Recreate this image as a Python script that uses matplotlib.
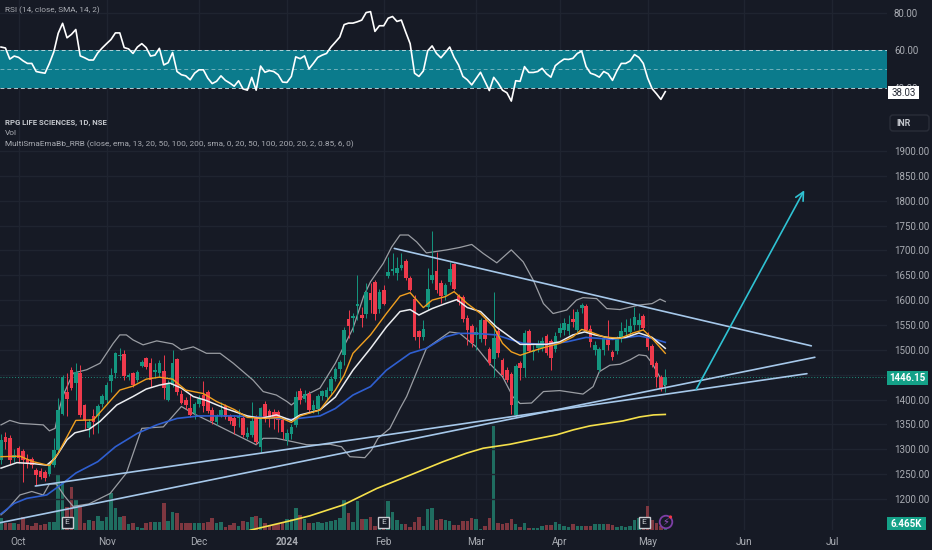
import matplotlib
matplotlib.use('Agg')
import matplotlib.pyplot as plt
from matplotlib.patches import Rectangle, FancyBboxPatch, Circle

plt.rcParams['font.family'] = ['Roboto', 'DejaVu Sans']

# candles (bar 0 is the left edge)
opens = [1278,1325,1323,1282,1302,1297,1280,1280,1258,1257,
         1255,1250,1268,1298,1371,1416,1460,1433,1454,1389,
         1342,1367,1366,1391,1399,1438,1454,1488,1492,1446,
         1453,1439,1468,1483,1474,1455,1453,1458,1400,1429,
         1481,1412,1400,1382,1372,1391,1409,1416,1379,1354,
         1369,1387,1366,1362,1362,1362,1325,1329,1362,1305,
         1391,1376,1374,1374,1358,1319,1331,1349,1418,1402,
         1412,1379,1380,
         1407,1405,1418,1442,1462,1489,1563,1565,1588,1570,
         1573,1615,1637,1583,1620,1649,1658,1654,1664,1679,
         1644,1603,1538,1526,1587,1640,1659,1634,1610,1637,
         1672,1608,1607,1565,1548,1530,1521,1560,1501,1481,
         1538,1479,1460,1451,1369,1473,1463,1538,1496,1503,
         1503,1528,1518,1501,1533,1540,1538,1563,1540,1585,
         1588,1541,1499,1460,1499,1526,1496,1498,
         1523,1535,1536,1550,1550,1568,1526,1508,1473,1446,1429]
closes = [1319,1315,1278,1288,1282,1278,1270,1268,1248,1245,
          1242,1268,1298,1379,1446,1402,1423,1456,1369,1359,
          1354,1354,1387,1407,1429,1449,1493,1490,1447,1449,
          1429,1456,1476,1466,1439,1460,1474,1423,1433,1473,
          1416,1394,1389,1369,1391,1402,1387,1376,1356,1366,
          1379,1364,1356,1347,1366,1329,1332,1356,1315,1382,
          1362,1362,1362,1358,1335,1332,1345,1405,1399,1412,
          1379,1389,1407,
          1417,1419,1442,1462,1476,1540,1548,1568,1592,1565,
          1617,1600,1573,1617,1593,1657,1662,1664,1670,1644,
          1621,1526,1525,1541,1623,1650,1621,1608,1630,1662,
          1623,1597,1563,1540,1514,1536,1560,1521,1474,1523,
          1493,1449,1439,1389,1468,1463,1533,1498,1499,1511,
          1518,1493,1483,1528,1543,1554,1552,1556,1577,1590,
          1540,1516,1509,1501,1521,1509,1486,1521,
          1538,1543,1547,1567,1561,1543,1506,1469,1446,1422,1446]
highs = [1330,1335,1328,1300,1306,1300,1290,1284,1262,1262,
         1258,1272,1322,1403,1450,1453,1465,1474,1470,1392,
         1360,1380,1392,1412,1435,1464,1496,1503,1500,1453,
         1456,1460,1480,1486,1483,1473,1480,1490,1440,1500,
         1484,1420,1405,1412,1395,1410,1438,1420,1385,1370,
         1396,1392,1370,1366,1380,1370,1345,1395,1368,1385,
         1398,1380,1380,1378,1362,1340,1350,1418,1423,1420,
         1418,1400,1412,
         1420,1425,1448,1465,1480,1545,1580,1575,1650,1587,
         1635,1634,1640,1622,1630,1687,1694,1687,1694,1682,
         1648,1610,1540,1560,1664,1740,1697,1640,1635,1677,
         1675,1612,1610,1570,1552,1545,1565,1565,1505,1617,
         1545,1483,1465,1455,1472,1478,1540,1542,1510,1520,
         1525,1532,1522,1535,1553,1565,1570,1583,1582,1595,
         1592,1550,1518,1505,1528,1560,1500,1528,
         1555,1562,1565,1587,1575,1572,1535,1512,1478,1450,1461]
lows = [1270,1300,1270,1275,1272,1235,1262,1262,1228,1240,
        1236,1246,1264,1295,1368,1367,1420,1400,1365,1340,
        1325,1330,1332,1385,1390,1415,1443,1480,1440,1440,
        1425,1435,1465,1462,1425,1443,1445,1402,1398,1425,
        1410,1390,1380,1365,1360,1385,1375,1372,1350,1348,
        1365,1360,1350,1330,1345,1325,1320,1325,1310,1295,
        1355,1345,1340,1335,1320,1308,1320,1345,1390,1396,
        1375,1372,1370,
        1400,1398,1410,1438,1440,1470,1523,1535,1560,1546,
        1565,1575,1560,1575,1590,1645,1650,1640,1660,1640,
        1618,1520,1503,1520,1580,1635,1615,1595,1600,1630,
        1620,1590,1555,1510,1505,1500,1515,1510,1470,1446,
        1485,1445,1435,1370,1365,1440,1446,1495,1480,1495,
        1498,1490,1460,1495,1525,1530,1530,1545,1535,1575,
        1535,1505,1490,1455,1490,1500,1480,1492,
        1515,1525,1530,1540,1540,1540,1500,1465,1425,1418,1415]
volumes = [12.6,7.2,7.9,7.2,6.5,13.7,5.4,4.7,7.9,5.4,
           6.5,9,9,59.4,52.2,25.2,46,33,25,7.2,
           10.8,10,15,10,14.4,39.6,24,14.4,15,6.5,
           7.2,3.6,1.8,7.9,9,9,9,29.5,10,19.8,
           18,7.2,7.2,7.9,7.2,7.2,7.9,9,13.3,7.2,
           8.3,3.6,5.4,7.9,4.3,9.7,9,14.4,15,12.6,
           7.2,5.4,5.4,6.5,7.2,11.5,11.5,23.4,16.2,11.5,
           7.2,7.9,9,
           7.9,9,9.7,10.8,12.6,33.5,18,9,31.3,11.9,
           11.5,13.7,4.3,5.4,7.2,31.7,19,10.8,6.5,6.5,
           3.6,8.3,13.7,4.3,23,23.8,10.8,11.5,10.4,9.7,
           5,5.8,10,10,13,11.5,1.4,4.3,12.6,112.3,
           7.2,6.5,7.9,11.5,6.1,2.9,7.6,2.2,2.5,1.8,
           4.7,5,5.4,9,6.1,4.3,3.6,6.1,4.3,4.3,
           4.3,4.7,6.1,6.1,6.5,6.5,5.8,3.6,4.3,3.6,
           4.3,10.8,12.6,12.6,25.9,10.8,7.2,4.3,6.465]
rsi = [61.7,61.2,55.3,56.9,56.2,54.4,53,53,48.7,48.2,
       47.8,53,59.1,69,74.3,66.6,68.4,71,57,56,
       54.8,54.8,58.6,61.2,63.5,65.7,69.2,69.2,61.4,60.7,
       58.3,61.7,63.5,61.4,56.9,57.4,61,52.2,53.4,58.8,
       48.7,47,46.4,44.3,47.8,49.6,49.6,45.2,42.3,43.5,
       46.4,44,42.6,40.9,43.8,39.5,38.8,45.6,38.8,51.6,
       48.3,49.2,48.7,47,43.1,42.9,46.1,56.5,55.5,57,
       50.1,53,56.2,57.4,58.3,61.7,64.3,67,73.6,74.4,
       74.4,75.1,76,80,80.5,70,73,73,77,77.9,
       75.3,76,69.6,63.5,47.8,46.1,49,59.7,62.3,58.3,
       56,58.8,61.7,56.2,52.2,46.1,
       44.3,41.6,44.9,48.3,43.5,38.6,45.6,42.6,38.8,37.4,
       33,43.8,43.5,51.3,48.2,48.2,48.7,50.4,47.5,45.7,
       51.8,53.7,55.3,55.1,55.7,58.3,59.5,51.3,47.8,47,
       45.7,48.7,47.5,44,49,53,53,54.3,57.7,56.2,
       53,45.2,39.6,36.9,33.9,38]

# moving averages and bands, each with the bars where it was read
ema_fast_bars = [0,4.3,7.3,11,13,15,17,21,24,27,30,33,36,39,42,46,49,53,56,60,63.4,66,68,72.5,76,78,80,84,87.6,90.7,93,94.5,96,98,101,103,106,109,112,114,116,118,121,124,127,130,132,134,137,140.7,143.7,146,148,151]
ema_fast = [1285,1286,1275,1267,1292,1325,1358,1359,1389,1419,1427,1441,1445,1441,1419,1412,1396,1380,1364,1362,1364,1354,1367,1379,1419,1449,1493,1530,1573,1608,1615,1600,1585,1600,1607,1617,1593,1573,1546,1513,1496,1489,1498,1506,1513,1526,1541,1536,1526,1523,1534,1540,1523,1493]
ema_mid_bars = [0,3.6,7.3,10.4,12.3,15,16.8,20,22.5,26.3,30,33,36,38.4,41,43.7,46.7,51,56,59,62.6,66,68,72.5,76,80,84,87.6,90.7,93,95,98,101,103.6,106,109,112.6,115.7,118,121,124,127,130,132.7,135,139,142,145,148,151]
ema_mid = [1262,1273,1271,1268,1282,1319,1333,1340,1356,1389,1406,1421,1429,1433,1423,1406,1398,1382,1367,1362,1369,1358,1369,1379,1405,1459,1503,1546,1577,1581,1570,1583,1593,1601,1585,1577,1546,1526,1511,1511,1511,1516,1530,1536,1530,1523,1525,1534,1525,1503]
ema_slow_bars = [0,3,5.8,10.4,14,17,22,26,31,35.4,40,45,53,60,65.7,72.5,76,80,84,87.6,93,96.7,101,104,108,112.6,115.7,118.7,124,128.6,133,139,145,148,151]
ema_slow = [1170,1191,1201,1208,1231,1252,1275,1305,1332,1349,1362,1367,1367,1364,1360,1367,1382,1409,1426,1459,1493,1503,1526,1533,1533,1530,1521,1513,1511,1516,1525,1521,1528,1523,1515]
sma_long_bars = [56.6,65.7,70.2,77.8,85.4,93,100.5,105.8,109.6,115.7,121.7,126.3,130.1,133.9,137.7,141.4,145.2,148.3,151]
sma_long = [1137,1156,1166,1188,1221,1248,1275,1292,1302,1310,1321,1329,1339,1347,1352,1357,1365,1369,1370]
bb_upper_bars = [0,2,4.3,9.6,11,12.3,13,14,16.4,19.5,22.5,25.5,27,28.5,30,32.3,35.4,39,41,43.7,46.7,49.8,52.8,57.3,59.6,62.6,65,66,68,72.5,76,80,82.4,84,86.9,88.8,90.7,92.6,94.5,96.7,101.3,104.3,107,109.6,112.7,116,118.7,121,123.3,125.5,128.6,130.8,132.3,135.4,137.7,140.7,145,148,149.8,151]
bb_upper = [1349,1358,1352,1349,1337,1342,1372,1406,1453,1460,1473,1513,1530,1530,1520,1510,1518,1512,1500,1506,1493,1493,1473,1439,1416,1409,1396,1389,1403,1423,1473,1543,1607,1637,1674,1707,1731,1731,1717,1695,1701,1706,1712,1694,1675,1701,1677,1640,1593,1573,1580,1600,1605,1603,1583,1581,1590,1593,1602,1597]
bb_lower_bars = [0,1.3,4.3,7,9.6,11,12.6,14.5,16.4,20,24.8,28.5,32,36.9,41,43.7,48.3,52.8,58,59.6,62.6,66.4,69.5,72.5,74.8,77.4,79.3,82.7,84.2,85.7,88.4,90.7,92.2,96.7,102,104.3,108,111,114,116.4,118,120.6,123.3,127,132.3,134.6,136,138.4,140.7,143,145,146.7,148,151]
bb_lower = [1168,1178,1208,1215,1208,1230,1230,1205,1185,1190,1211,1252,1342,1345,1386,1372,1352,1332,1309,1322,1322,1315,1309,1309,1310,1305,1285,1283,1298,1322,1342,1382,1406,1503,1536,1533,1506,1473,1446,1405,1392,1393,1416,1418,1411,1426,1456,1469,1471,1480,1490,1488,1473,1426]

# drawn trend lines and the forecast arrow
trend_bars = [[89.4, 184.2], [7.8, 183.2], [-0.3, 185]]
trend_prices = [[1704, 1508], [1226, 1452], [1152, 1485]]
arrow_bars = [158, 182.6]
arrow_prices = [1420, 1821]

month_bars = [4, 24, 45, 65, 87, 108, 127, 147, 169, 189]
month_names = ['Oct', 'Nov', 'Dec', '2024', 'Feb', 'Mar', 'Apr', 'May', 'Jun', 'Jul']
price_ticks = [1200, 1250, 1300, 1350, 1400, 1450, 1500, 1550, 1600, 1650, 1700, 1750, 1800, 1850, 1900]
price_labels = [1200, 1250, 1300, 1350, 1400, 1500, 1550, 1600, 1650, 1700, 1750, 1800, 1850, 1900]
rsi_ticks = [40, 60, 80]
last_price = 1446.15

BG = '#161a25'
GRID = '#1f2430'
TEXT = '#a9acb3'
UP = '#14967f'
DOWN = '#ee3a4c'
FIG_W, FIG_H = 932, 550
AX_W = 887


def px_axes(top, bottom):
    return [0, 1 - bottom / FIG_H, AX_W / FIG_W, (bottom - top) / FIG_H]


fig = plt.figure(figsize=(9.32, 5.5), dpi=100, facecolor=BG)
xlim = (-0.23, 201.4)

# RSI pane
ax_rsi = fig.add_axes(px_axes(0, 110), facecolor=BG)
ax_rsi.set_xlim(xlim)
ax_rsi.set_ylim(28.27, 86.67)
ax_rsi.axhspan(40, 60, color='#0b7b8c', lw=0, zorder=1)
for level, alpha in [(60, 0.9), (50, 0.55), (40, 0.9)]:
    ax_rsi.axhline(level, color='#c5dde2', lw=0.7, ls=(0, (4, 3)), alpha=alpha, zorder=2)
ax_rsi.plot(range(len(rsi)), rsi, color='white', lw=1.2, zorder=3)
ax_rsi.set_yticks(rsi_ticks)
ax_rsi.set_yticklabels(['%.2f' % t for t in rsi_ticks])

# volume sits under the price axes
ax_vol = fig.add_axes(px_axes(110, 530), facecolor=BG, zorder=1)
ax_vol.set_xlim(xlim)
ax_vol.set_ylim(0, 453)
vol_colors = ['#1f6d60' if c >= o else '#7e3740' for o, c in zip(opens, closes)]
ax_vol.bar(range(len(volumes)), volumes, width=0.8, color=vol_colors, lw=0, zorder=2)
ax_vol.set_yticks([])

ax = fig.add_axes(px_axes(110, 530), zorder=2)
ax.patch.set_alpha(0)
ax.set_xlim(xlim)
ax.set_ylim(1137.5, 1982.5)

for a in (ax_rsi, ax_vol, ax):
    for s in a.spines.values():
        s.set_visible(False)
    a.tick_params(length=0)
for a in (ax_rsi, ax_vol):
    a.set_xticks(month_bars)
    a.set_xticklabels([])
    a.grid(True, axis='x', color=GRID, lw=1, zorder=0)
    a.set_axisbelow(True)
ax_rsi.grid(True, axis='y', color=GRID, lw=1)

ax.yaxis.tick_right()
ax_rsi.yaxis.tick_right()
ax.set_yticks(price_ticks)
ax.set_yticklabels(['%.2f' % t if t in price_labels else '' for t in price_ticks])
ax.grid(True, axis='y', color=GRID, lw=1, zorder=0)
ax.set_axisbelow(True)
ax.set_xticks(month_bars)
ax.set_xticklabels(month_names)
ax.tick_params(axis='x', colors=TEXT, labelsize=7.2, pad=5)
for a in (ax, ax_rsi):
    a.tick_params(axis='y', colors=TEXT, labelsize=7, pad=5)
for lab in ax.get_xticklabels():
    if lab.get_text() == '2024':
        lab.set_fontweight('bold')

ax.axhline(last_price, color='#1f8f7c', lw=0.7, ls=(0, (1, 2)), zorder=1)

# bands and averages
ax.plot(bb_upper_bars, bb_upper, color='#9a9da3', lw=0.9, zorder=3)
ax.plot(bb_lower_bars, bb_lower, color='#9a9da3', lw=0.9, zorder=3)

# candles
for i in range(len(opens)):
    col = UP if closes[i] >= opens[i] else DOWN
    ax.vlines(i, lows[i], highs[i], color=col, lw=0.7, zorder=4)
    ax.bar(i, max(abs(closes[i] - opens[i]), 2), bottom=min(opens[i], closes[i]),
           width=0.82, color=col, lw=0, zorder=5)

ax.plot(sma_long_bars, sma_long, color='#f5e04b', lw=1.2, zorder=6)
ax.plot(ema_slow_bars, ema_slow, color='#2f5fd0', lw=1.2, zorder=6)
ax.plot(ema_mid_bars, ema_mid, color='#ebedf0', lw=1.1, zorder=6)
ax.plot(ema_fast_bars, ema_fast, color='#f0a020', lw=1.0, zorder=6)

for tb, tp in zip(trend_bars, trend_prices):
    ax.plot(tb, tp, color='#a6c8ea', lw=1.2, zorder=7, solid_capstyle='round')
ax.annotate('', xy=(arrow_bars[1], arrow_prices[1]), xytext=(arrow_bars[0], arrow_prices[0]),
            arrowprops=dict(arrowstyle='->,head_length=0.6,head_width=0.3', color='#2fc2d3',
                            lw=1.2, shrinkA=0, shrinkB=0), zorder=7)

# overlay in pixels for the legend texts, price boxes and small icons
ov = fig.add_axes([0, 0, 1, 1], zorder=5)
ov.patch.set_alpha(0)
ov.set_xlim(0, FIG_W)
ov.set_ylim(FIG_H, 0)
ov.axis('off')

ov.text(5, 10.5, 'RSI (14, close, SMA, 14, 2)', color=TEXT, fontsize=5.95, va='center')
ov.text(5, 122.5, 'RPG LIFE SCIENCES, 1D, NSE', color='#c3c6cc', fontsize=5.6, va='center', fontweight='bold')
ov.text(5, 133, 'Vol', color=TEXT, fontsize=5.95, va='center')
ov.text(5, 144, 'MultiSmaEmaBb_RRB (close, ema, 13, 20, 50, 100, 200, sma, 0, 20, 50, 100, 200, 20, 2, 0.85, 6, 0)',
        color=TEXT, fontsize=5.95, va='center')

ov.add_patch(Rectangle((888, 86), 31, 13, color='white', lw=0))
ov.text(903.5, 92.8, '38.03', color='#2a2e39', fontsize=7, ha='center', va='center')
ov.add_patch(FancyBboxPatch((890, 115), 39, 16, boxstyle='round,pad=0,rounding_size=3',
                            fc=BG, ec='#2a2e39', lw=1))
ov.text(896, 123, 'INR', color='#c3c6cc', fontsize=6.4, va='center', fontweight='bold')
ov.add_patch(Rectangle((887, 371), 41, 13.5, color='#14a188', lw=0))
ov.text(907.5, 378, '%.2f' % last_price, color='white', fontsize=7, ha='center', va='center', fontweight='bold')
ov.add_patch(Rectangle((887, 517), 39, 13, color='#14a188', lw=0))
ov.text(906.5, 524, '6.465K', color='white', fontsize=7, ha='center', va='center', fontweight='bold')

for ex in [67, 383.7, 644]:
    ov.add_patch(Rectangle((ex - 5.5, 516.5), 11, 11, fc=BG, ec='#c9ccd2', lw=1))
    ov.text(ex, 522.3, 'E', color='#c9ccd2', fontsize=6, ha='center', va='center')
ov.add_patch(Circle((666, 522), 6.3, fc=BG, ec='#7d3fa6', lw=1.3))
ov.text(666, 522, '\u26a1', color='#9c55c8', fontsize=7, ha='center', va='center', family='DejaVu Sans')
ov.add_patch(Circle((670.5, 517), 1.6, fc='#f23645', lw=0))

fig.savefig('out.png', dpi=100, facecolor=BG)
